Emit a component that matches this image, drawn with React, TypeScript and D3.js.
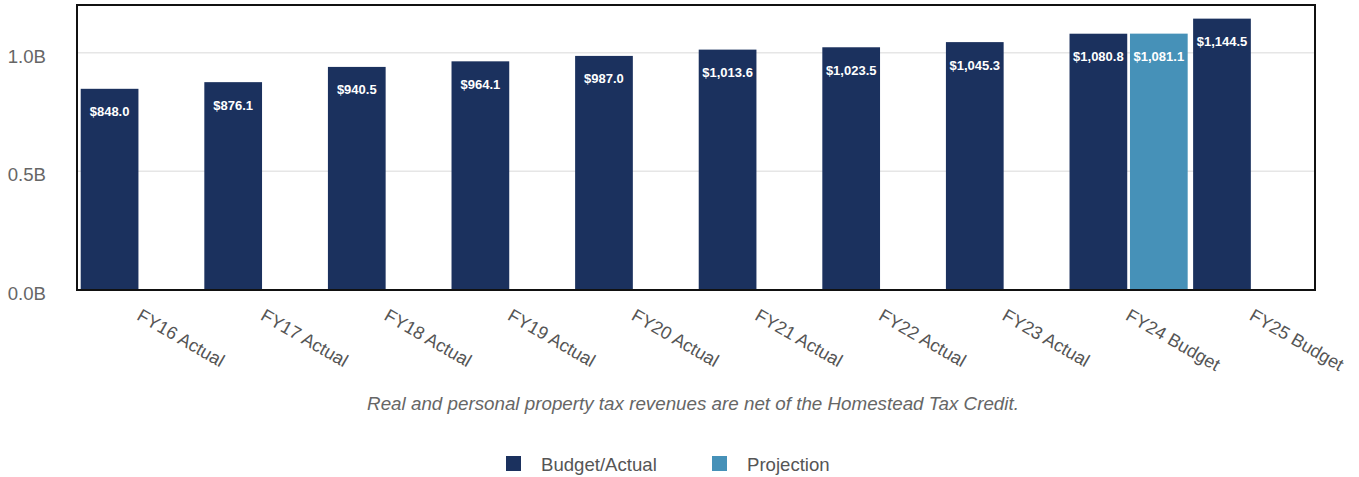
import React from 'react';
import * as d3 from 'd3';

const categories = ['FY16 Actual', 'FY17 Actual', 'FY18 Actual', 'FY19 Actual', 'FY20 Actual', 'FY21 Actual', 'FY22 Actual', 'FY23 Actual', 'FY24 Budget', 'FY25 Budget'];
// millions of dollars
const budgetActual = [848.0, 876.1, 940.5, 964.1, 987.0, 1013.6, 1023.5, 1045.3, 1080.8, 1144.5];
const projection: (number | null)[] = [null, null, null, null, null, null, null, null, 1081.1, null];
const yTicks = [0, 500, 1000];
const seriesNames = ['Budget/Actual', 'Projection'];
const seriesColors = ['#1b315e', '#4691b8'];

const W = 1359;
const H = 477;
const left = 78, right = 1314, top = 5.5, bottom = 289.5;

export default function App() {
  const x = d3.scaleBand<string>().domain(categories).range([left, right]).padding(0);
  const sub = d3.scaleBand<string>().domain(seriesNames).range([0, x.bandwidth()]).padding(0.045);
  const y = d3.scaleLinear().domain([0, 1200]).range([bottom, top]);
  const fmt = d3.format(',.1f');

  const bars: { key: string; x: number; v: number; color: string }[] = [];
  categories.forEach((c, i) => {
    const vals = [budgetActual[i], projection[i]];
    vals.forEach((v, s) => {
      if (v == null) return;
      bars.push({ key: c + s, x: (x(c) as number) + (sub(seriesNames[s]) as number), v, color: seriesColors[s] });
    });
  });

  return (
    <svg width={W} height={H} style={{ position: 'absolute', left: 0, top: 0, fontFamily: 'Liberation Sans, Arial, sans-serif' }}>
      {yTicks.map(t => (
        <g key={t}>
          {t > 0 && <line x1={left} x2={right} y1={y(t)} y2={y(t)} stroke="#e6e6e6" strokeWidth={1.5} />}
          <text x={46} y={y(t) + 10} textAnchor="end" fontSize={18.6} fill="#666">{(t / 1000).toFixed(1)}B</text>
        </g>
      ))}
      {bars.map(b => (
        <g key={b.key}>
          <rect x={b.x} y={y(b.v)} width={sub.bandwidth()} height={bottom - y(b.v)} fill={b.color} />
          <text x={b.x + sub.bandwidth() / 2} y={y(b.v) + 27.5} textAnchor="middle" fontSize={13} fontWeight="bold" fill="#fff">${fmt(b.v)}</text>
        </g>
      ))}
      <rect x={left - 1} y={top - 0.5} width={right - left + 2} height={bottom - top + 1} fill="none" stroke="#111" strokeWidth={2} />
      {categories.map(c => (
        <text key={c} transform={`translate(${(x(c) as number) + x.bandwidth() / 2},312) rotate(30)`} y={8} fontSize={18} fill="#555">{c}</text>
      ))}
      <text x={693} y={410} textAnchor="middle" fontSize={18.8} fontStyle="italic" fill="#666">Real and personal property tax revenues are net of the Homestead Tax Credit.</text>
      {seriesNames.map((s, i) => (
        <g key={s} transform={`translate(${[506, 712][i]},456)`}>
          <rect width={15} height={15} fill={seriesColors[i]} />
          <text x={35} y={14.5} fontSize={18.6} fill="#555">{s}</text>
        </g>
      ))}
    </svg>
  );
}
